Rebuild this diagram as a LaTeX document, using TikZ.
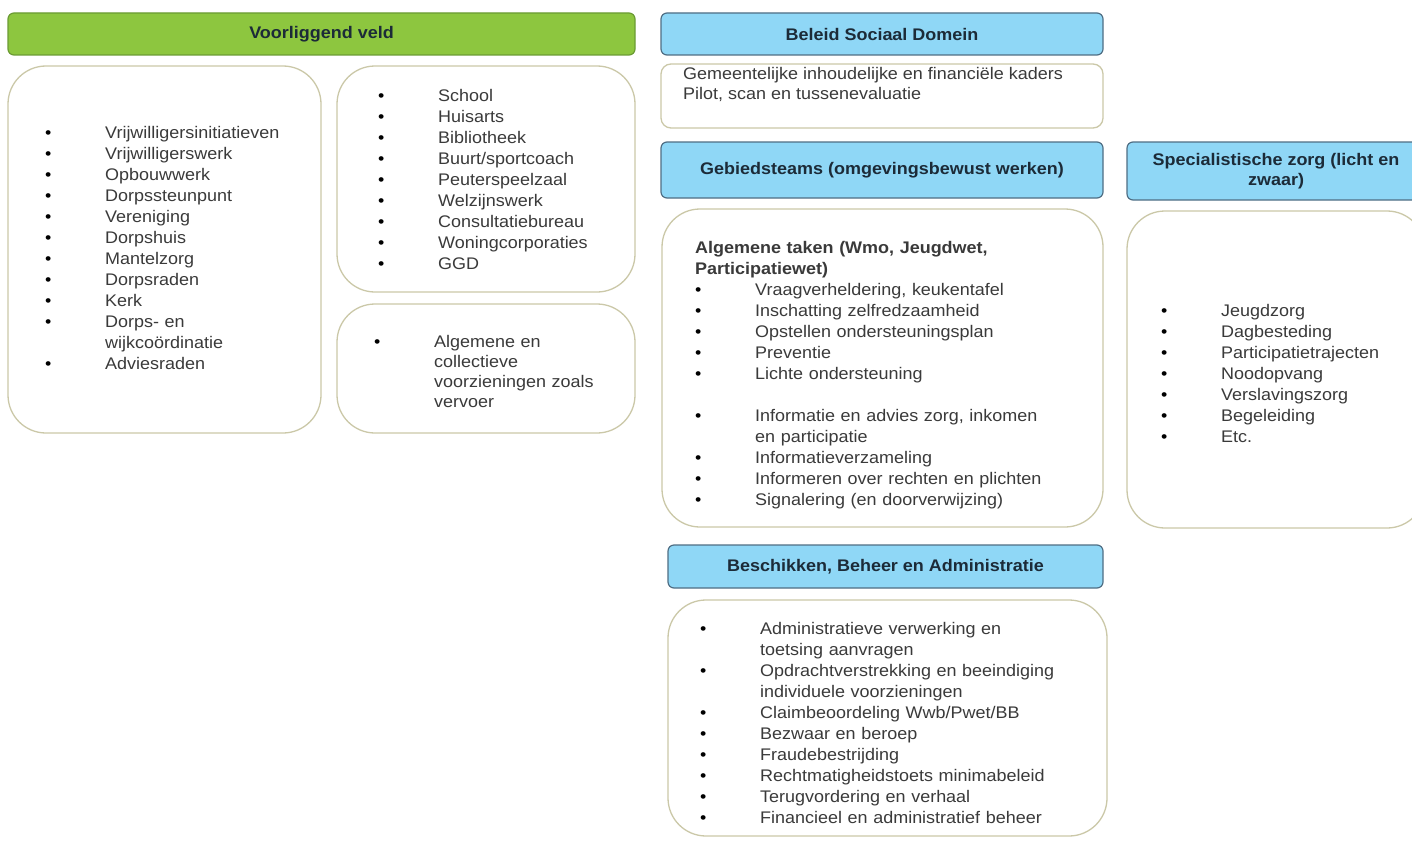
\documentclass[tikz,border=0pt]{standalone}
\usepackage{fontspec}
\setmainfont{Liberation Sans}[FakeStretch=1.07]
\definecolor{vvgroen}{HTML}{8DC63F}
\definecolor{vvrand}{HTML}{6B9B33}
\definecolor{sdblauw}{HTML}{8FD7F6}
\definecolor{sdrand}{HTML}{4F6E84}
\definecolor{vakrand}{HTML}{CBC8A8}
\definecolor{tekst}{HTML}{3A3A3A}
\definecolor{koptekst}{HTML}{1C2B38}
\newcommand{\itm}[1]{\makebox[60pt][l]{\color{black}\textbullet}#1}
\newcommand{\vrv}[1]{\hspace*{60pt}#1}
\begin{document}
\begin{tikzpicture}[x=1pt,y=-1pt,
    kop/.style={rounded corners=6pt, line width=1.2pt, align=center, inner sep=0pt,
      text=koptekst, font=\fontsize{16.8}{20}\selectfont\bfseries},
    groenkop/.style={kop, draw=vvrand, fill=vvgroen},
    blauwkop/.style={kop, draw=sdrand, fill=sdblauw},
    vak/.style={draw=vakrand, line width=1.3pt, fill=white, rounded corners=38pt},
    lijst/.style={anchor=west, align=left, inner sep=0pt, text=tekst,
      font=\fontsize{16.8}{21}\selectfont}]
      \useasboundingbox (0,0) rectangle (1412,840);
      \fill[white] (0,0) rectangle (1412,840);
      \clip (0,0) rectangle (1412,840);
      \draw
        (321.5,34) node[groenkop, minimum width=627, minimum height=42] (vv){Voorliggend veld}
        (882,34) node[blauwkop, minimum width=442, minimum height=42] (beleid){Beleid Sociaal Domein}
        (882,170) node[blauwkop, minimum width=442, minimum height=56] (gebied){Gebiedsteams (omgevingsbewust werken)}
        (1276,171) node[blauwkop, minimum width=298, minimum height=58] (spec){Specialistische zorg (licht en\\zwaar)}
        (885.5,566.5) node[blauwkop, minimum width=435, minimum height=43] (bba){Beschikken, Beheer en Administratie};
      \draw
        (164.5,249.5) node[vak, minimum width=313, minimum height=367] (vv1){}
        (486,179) node[vak, minimum width=298, minimum height=226] (vv2){}
        (486,368.5) node[vak, minimum width=298, minimum height=129] (vv3){}
        (882,96) node[vak, rounded corners=10pt, minimum width=442, minimum height=64] (kader){}
        (882.5,368) node[vak, minimum width=441, minimum height=318] (taken){}
        (1276,369.5) node[vak, minimum width=298, minimum height=317] (zorg){}
        (887.5,718) node[vak, minimum width=439, minimum height=236] (beheer){};
      \draw
        (45,248) node[lijst, text width=239pt] (vv1lijst){%
          \itm{Vrijwilligersinitiatieven}\\ \itm{Vrijwilligerswerk}\\ \itm{Opbouwwerk}\\
          \itm{Dorpssteunpunt}\\ \itm{Vereniging}\\ \itm{Dorpshuis}\\ \itm{Mantelzorg}\\
          \itm{Dorpsraden}\\ \itm{Kerk}\\ \itm{Dorps- en}\\ \vrv{wijkcoördinatie}\\ \itm{Adviesraden}}
        (378,179) node[lijst, text width=216pt] (vv2lijst){%
          \itm{School}\\ \itm{Huisarts}\\ \itm{Bibliotheek}\\ \itm{Buurt/sportcoach}\\
          \itm{Peuterspeelzaal}\\ \itm{Welzijnswerk}\\ \itm{Consultatiebureau}\\
          \itm{Woningcorporaties}\\ \itm{GGD}}
        (374,371) node[lijst, text width=224pt, font=\fontsize{16.8}{20}\selectfont] (vv3lijst){%
          \itm{Algemene en}\\ \vrv{collectieve}\\ \vrv{voorzieningen zoals}\\ \vrv{vervoer}}
        (695,375) node[lijst, text width=375pt] (takenlijst){%
          \textbf{Algemene taken (Wmo, Jeugdwet,}\\ \textbf{Participatiewet)}\\
          \itm{Vraagverheldering, keukentafel}\\ \itm{Inschatting zelfredzaamheid}\\
          \itm{Opstellen ondersteuningsplan}\\ \itm{Preventie}\\ \itm{Lichte ondersteuning}\\[21pt]
          \itm{Informatie en advies zorg, inkomen}\\ \vrv{en participatie}\\
          \itm{Informatieverzameling}\\ \itm{Informeren over rechten en plichten}\\
          \itm{Signalering (en doorverwijzing)}}
        (1161,373) node[lijst, text width=230pt] (zorglijst){%
          \itm{Jeugdzorg}\\ \itm{Dagbesteding}\\ \itm{Participatietrajecten}\\ \itm{Noodopvang}\\
          \itm{Verslavingszorg}\\ \itm{Begeleiding}\\ \itm{Etc.}}
        (700,723) node[lijst, text width=375pt] (beheerlijst){%
          \itm{Administratieve verwerking en}\\ \vrv{toetsing aanvragen}\\
          \itm{Opdrachtverstrekking en beeindiging}\\ \vrv{individuele voorzieningen}\\
          \itm{Claimbeoordeling Wwb/Pwet/BB}\\ \itm{Bezwaar en beroep}\\ \itm{Fraudebestrijding}\\
          \itm{Rechtmatigheidstoets minimabeleid}\\ \itm{Terugvordering en verhaal}\\
          \itm{Financieel en administratief beheer}};
      \node[anchor=north west, align=left, inner sep=0pt, text=tekst,
        font=\fontsize{16.8}{20}\selectfont] (kadertekst) at (683,67)
        {Gemeentelijke inhoudelijke en financiële kaders\\ Pilot, scan en tussenevaluatie};
    \end{tikzpicture}
\end{document}
